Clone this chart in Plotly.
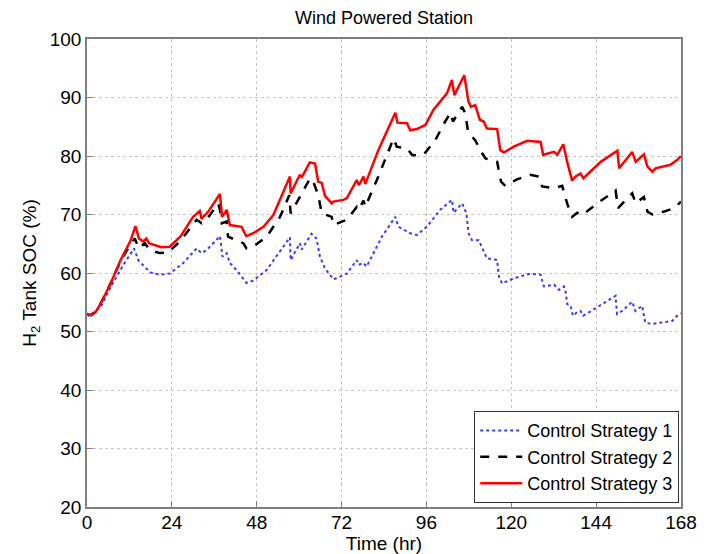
import plotly.graph_objects as go

hours_s1 = [0, 0.5, 3.8, 6.6, 10.4, 13.3, 14.6, 16, 17.9, 20.6, 23.4, 27.2, 31, 32.4, 33.8, 37.6, 38.3, 39.5, 40.4, 42.3,
            45.1, 47, 50.8, 57.4, 57.6, 60.2, 60.7, 63.5, 64.9, 65.9, 67.3, 69.7, 73.5, 76.3, 76.8, 78.2, 79.1, 83.4,
            87.2, 88.1, 91.4, 93.3, 96.1, 99.9, 103.2, 103.7, 106.1, 107.3, 107.9, 108.9, 110.8, 113.1, 116, 116.5,
            117.4, 120.7, 125.4, 128.3, 129.2, 132.1, 133.5, 134.9, 135.4, 135.8, 136.8, 137.4, 138.6, 139.6, 140.3,
            141.5, 144.3, 147.1, 149.5, 149.9, 151.3, 154.2, 155.1, 157, 157.9, 159.8, 162.2, 165.5, 166.9, 168]
soc_s1 = [53.0, 52.7, 54.1, 57.5, 61.5, 64.2, 62.1, 61.3, 60.1, 59.7, 59.9, 61.7, 64.2, 63.4, 63.9, 66.3, 62.8, 63.4, 61.7,
          60.5, 58.3, 58.7, 60.5, 66.1, 62.2, 65.1, 64.0, 66.7, 65.9, 62.8, 60.8, 58.9, 59.9, 62.2, 61.4, 61.7, 61.1,
          66.2, 69.6, 67.9, 66.8, 66.5, 67.9, 70.8, 72.5, 70.3, 71.9, 70.2, 66.8, 65.6, 65.6, 62.5, 62.2, 59.4, 58.2,
          59.1, 59.9, 59.7, 57.7, 58.0, 57.1, 57.7, 56.7, 54.7, 54.4, 52.7, 53.3, 53.5, 52.7, 53.1, 54.1, 55.1, 56.1,
          53.0, 53.5, 55.1, 53.5, 54.4, 51.5, 51.3, 51.5, 51.8, 52.7, 53.1]

hours_s2 = [0, 1.2, 2.4, 3.8, 6.6, 9.4, 12.0, 13.5, 14.7, 16.3, 17.8, 20.6, 22.9, 26.3, 31, 32.4, 33.8, 37.1, 37.6, 38.1,
            39.5, 39.9, 42.3, 44.2, 45.1, 47, 50.8, 54.6, 57.2, 57.6, 60.2, 63.1, 64, 65.4, 66.4, 69.2, 69.7, 73.5,
            76.3, 76.8, 78.2, 78.7, 82.4, 86.7, 87.6, 90.5, 91.9, 93.8, 95.7, 98.5, 101.3, 102.8, 103.5, 106.1, 107,
            107.7, 108.4, 109.8, 111.3, 112.7, 116, 117.1, 118.3, 121.6, 125.3, 127.8, 128.7, 132.1, 134.4, 135.8,
            137.2, 138.7, 140.1, 144.3, 149.5, 150.2, 154.2, 155.2, 157.5, 158.5, 159.9, 163.2, 166.1, 168]
soc_s2 = [53.0, 52.8, 53.3, 54.7, 58.1, 61.9, 64.6, 65.9, 64.2, 65.1, 63.9, 63.4, 63.5, 65.4, 69.1, 68.5, 69.1, 71.9,
          70.8, 68.5, 68.8, 66.2, 65.6, 65.1, 64.2, 64.5, 66.2, 69.6, 73.3, 70.2, 73.0, 76.2, 75.6, 73.3, 70.2, 69.6,
          68.2, 69.1, 71.3, 70.8, 72.4, 71.3, 76.5, 83.0, 81.6, 81.3, 80.2, 80.0, 80.6, 82.7, 85.9, 87.4, 85.9, 88.4,
          87.3, 84.4, 83.6, 82.7, 80.9, 79.6, 79.0, 75.6, 74.9, 76.0, 76.8, 76.5, 74.8, 74.5, 74.9, 71.9, 69.6, 70.3,
          69.9, 71.9, 74.1, 71.1, 73.6, 71.9, 73.0, 70.5, 70.0, 70.5, 71.1, 72.2]

hours_s3 = [0, 1.2, 2.4, 3.8, 6.6, 9.4, 12.3, 13.7, 14.7, 15.9, 16.8, 17.5, 21, 23.4, 26.5, 30, 31.9, 32.4, 34.3, 37.6,
            38.2, 39.5, 40.4, 42.3, 43.7, 44.7, 45.1, 47, 49.9, 52.7, 57.4, 57.6, 60.2, 60.7, 63, 64.5, 65.4, 66.4,
            67.3, 69.2, 69.7, 72.5, 73.5, 76.3, 76.9, 78.2, 78.7, 82.4, 87.2, 87.8, 90.5, 91.4, 93.3, 95.7, 98, 101.8,
            103.2, 103.9, 106.7, 107.9, 108.6, 109.8, 111.1, 112.2, 113.1, 116, 116.9, 117.9, 120.7, 124.5, 128.3,
            129, 132.1, 133, 134.7, 135.8, 137.2, 138.2, 139.6, 140.4, 145.3, 150, 150.5, 154.2, 155.2, 157.5, 158.5,
            159.9, 160.8, 165, 166.9, 168]
soc_s3 = [53.0, 52.8, 53.3, 54.7, 58.1, 62.1, 65.5, 68.0, 65.9, 65.4, 65.9, 65.1, 64.4, 64.5, 66.3, 69.6, 70.6, 69.3,
          70.5, 73.5, 69.6, 70.8, 68.2, 68.0, 67.9, 66.7, 66.3, 66.8, 67.9, 69.9, 76.5, 73.6, 76.8, 76.3, 78.9, 78.7,
          75.6, 75.4, 73.2, 71.9, 72.2, 72.5, 72.8, 75.9, 75.0, 76.5, 75.2, 81.0, 87.4, 85.7, 85.6, 84.4, 84.6, 85.3,
          87.9, 90.7, 93.0, 90.4, 93.8, 89.3, 88.4, 88.7, 86.2, 85.9, 84.7, 84.6, 81.0, 80.6, 81.6, 82.6, 82.4, 80.2,
          80.7, 80.2, 82.0, 79.0, 75.8, 76.5, 77.0, 76.2, 79.0, 80.9, 77.9, 80.7, 79.0, 80.3, 78.2, 77.3, 77.9, 78.5,
          79.3, 80.0]

series_names = ["Control Strategy 1", "Control Strategy 2", "Control Strategy 3"]
x_ticks = [0, 24, 48, 72, 96, 120, 144, 168]
y_ticks = [20, 30, 40, 50, 60, 70, 80, 90, 100]

FONT = "Liberation Sans, Arial, sans-serif"

fig = go.Figure()
fig.add_trace(go.Scatter(x=hours_s1, y=soc_s1, mode="lines", name=series_names[0],
                         line=dict(color="#3a3aff", width=2, dash="dot")))
fig.add_trace(go.Scatter(x=hours_s2, y=soc_s2, mode="lines", name=series_names[1],
                         line=dict(color="black", width=2.5, dash="dash")))
fig.add_trace(go.Scatter(x=hours_s3, y=soc_s3, mode="lines", name=series_names[2],
                         line=dict(color="red", width=2.5)))

axis_common = dict(showline=True, mirror=True, linecolor="#7f7f7f", linewidth=1.5,
                   ticks="inside", ticklen=6, tickcolor="#7f7f7f",
                   showgrid=True, gridcolor="#c4c4c4", griddash="dot", gridwidth=1,
                   zeroline=False, automargin=False,
                   tickfont=dict(size=19, color="black", family=FONT))

fig.update_xaxes(range=[0, 168], tickvals=x_ticks, ticktext=[str(v) for v in x_ticks],
                 ticklabelstandoff=-3,
                 title=dict(text="Time (hr)", font=dict(size=19, color="black", family=FONT), standoff=0),
                 **axis_common)
fig.update_yaxes(range=[20, 100], tickvals=y_ticks, ticktext=[str(v) for v in y_ticks],
                 title=dict(text="H<sub>2</sub> Tank SOC (%)", font=dict(size=19, color="black", family=FONT),
                            standoff=8),
                 **axis_common)

fig.update_layout(
    width=709, height=554,
    margin=dict(l=87, r=28, t=39, b=47),
    plot_bgcolor="white", paper_bgcolor="white",
    font=dict(family=FONT, color="black"),
    title=dict(text="Wind Powered Station", x=0.5, xref="paper", y=1 - 18 / 554, yref="container",
               xanchor="center", yanchor="middle", font=dict(size=18, color="black", family=FONT)),
    legend=dict(x=0.997, y=0.008, xanchor="right", yanchor="bottom",
                bgcolor="white", bordercolor="#333333", borderwidth=1,
                font=dict(size=18, color="black", family=FONT),
                tracegroupgap=0, itemwidth=42),
    showlegend=True,
)

fig.write_html("out.html")
